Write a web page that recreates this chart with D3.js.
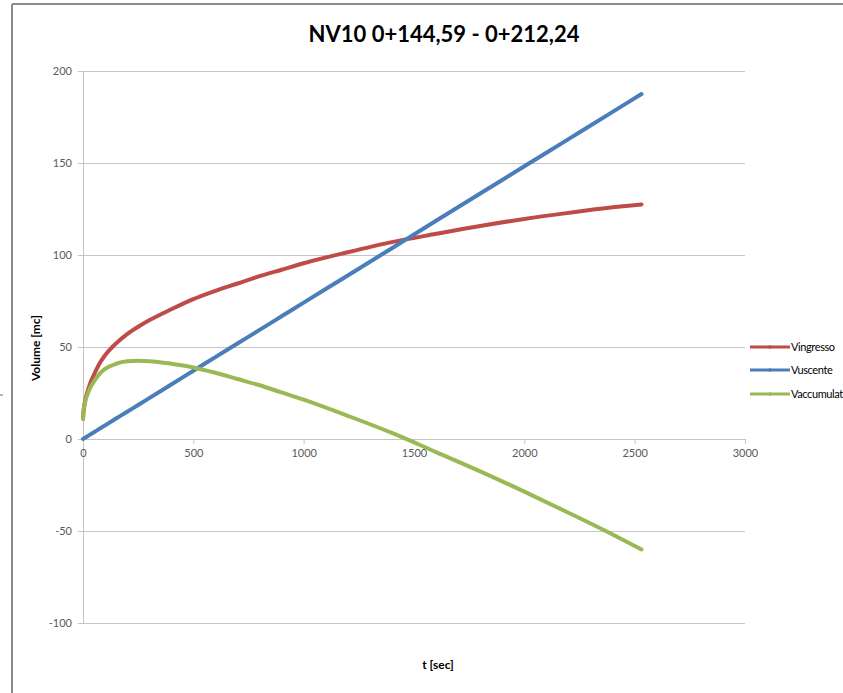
<!DOCTYPE html>
<html><head><meta charset="utf-8">
<script src="https://cdn.jsdelivr.net/npm/d3@7"></script>
<style>body{margin:0;background:#fff;}svg{display:block;font-family:Lato,"Open Sans",sans-serif;}</style>
</head><body><svg id="c" width="843" height="693"></svg>
<script>
const title = "NV10 0+144,59 - 0+212,24";
const tSec = [0, 2, 5, 10, 15, 25, 35, 50, 75, 100, 150, 200, 250, 300, 400, 500, 600, 700, 800, 900, 1000, 1200, 1400, 1600, 1800, 2000, 2200, 2400, 2531];
const vIngresso = [11, 14.5, 17.5, 21, 23.5, 27.5, 31, 35, 41, 45.5, 52, 57, 61, 64.5, 70.5, 76, 80.5, 84.5, 88.5, 92, 95.5, 101.5, 107, 111.5, 115.8, 119.6, 122.9, 125.9, 127.5];
const vUscente = [0, 0.15, 0.37, 0.74, 1.11, 1.85, 2.59, 3.7, 5.56, 7.4, 11.1, 14.8, 18.5, 22.2, 29.6, 37.1, 44.5, 51.9, 59.3, 66.7, 74.1, 88.9, 103.7, 118.6, 133.4, 148.2, 163.0, 177.8, 187.5];
const vAccumulato = [11, 14.4, 17.1, 20.3, 22.4, 25.7, 28.4, 31.3, 35.4, 38.1, 40.9, 42.2, 42.5, 42.3, 40.9, 38.9, 36, 32.6, 29.2, 25.3, 21.4, 12.6, 3.3, -7.1, -17.6, -28.6, -40.1, -51.9, -60];
const seriesNames = ["Vingresso", "Vuscente", "Vaccumulat"];
const seriesColors = ["#BE4B48", "#4A7EBB", "#98B954"];
const xTicks = [0, 500, 1000, 1500, 2000, 2500, 3000];
const yTicks = [-100, -50, 0, 50, 100, 150, 200];

const svg = d3.select("#c");
// frame
svg.append("line").attr("x1",12).attr("x2",12).attr("y1",4).attr("y2",693).attr("stroke","#8c8c8c").attr("stroke-width",2);
svg.append("line").attr("x1",12).attr("x2",843).attr("y1",4).attr("y2",4).attr("stroke","#8c8c8c").attr("stroke-width",2);
svg.append("line").attr("x1",0).attr("x2",3).attr("y1",395).attr("y2",395).attr("stroke","#666").attr("stroke-width",1);

const x = d3.scaleLinear().domain([0,3000]).range([83,745]);
const y = d3.scaleLinear().domain([-100,200]).range([623,71]);
const fmt = d => String(d);

// gridlines
svg.append("g").selectAll("line").data(yTicks).join("line")
  .attr("x1",83).attr("x2",745).attr("y1",d=>y(d)).attr("y2",d=>y(d))
  .attr("stroke","#c4c4c4").attr("stroke-width",1).attr("shape-rendering","crispEdges");

// y axis
const yAx = svg.append("g").attr("transform","translate(83,0)")
  .call(d3.axisLeft(y).tickValues(yTicks).tickFormat(fmt).tickSize(5).tickPadding(6));
yAx.select(".domain").attr("stroke","#c4c4c4");
yAx.selectAll(".tick line").attr("stroke","#c4c4c4");
yAx.selectAll("text").attr("fill","#595959").style("font-size","11px").style("font-family","Lato, sans-serif");

// x axis at y=0
const xAx = svg.append("g").attr("transform",`translate(0,${y(0)})`)
  .call(d3.axisBottom(x).tickValues(xTicks).tickFormat(fmt).tickSize(5).tickPadding(5));
xAx.select(".domain").attr("stroke","#c4c4c4");
xAx.selectAll(".tick line").attr("stroke","#c4c4c4");
xAx.selectAll("text").attr("fill","#595959").style("font-size","11px").style("font-family","Lato, sans-serif");

const series = [vIngresso, vUscente, vAccumulato];
const line = d3.line().x((d,i)=>x(tSec[i])).y(d=>y(d)).curve(d3.curveMonotoneX);
series.forEach((s,k)=>{
  svg.append("path").datum(s).attr("d",line).attr("fill","none")
    .attr("stroke",seriesColors[k]).attr("stroke-width",4).attr("stroke-linecap","round").attr("stroke-linejoin","round");
});

// title
svg.append("text").attr("x",444).attr("y",42).attr("text-anchor","middle")
  .style("font-size","22px").style("font-weight","bold").attr("fill","#000").text(title);

// axis titles
svg.append("text").attr("x",438).attr("y",669).attr("text-anchor","middle")
  .style("font-size","12px").style("font-weight","bold").attr("fill","#000").text("t [sec]");
svg.append("text").attr("transform","translate(40,348) rotate(-90)").attr("text-anchor","middle")
  .style("font-size","12px").style("font-weight","bold").attr("fill","#000").text("Volume [mc]");

// legend
const legY = [347, 370, 394];
const lg = svg.append("g");
seriesNames.forEach((n,k)=>{
  lg.append("line").attr("x1",750).attr("x2",790).attr("y1",legY[k]).attr("y2",legY[k])
    .attr("stroke",seriesColors[k]).attr("stroke-width",3);
  lg.append("circle").attr("cx",770).attr("cy",legY[k]).attr("r",1.8).attr("fill",seriesColors[k]);
  lg.append("text").attr("x",791).attr("y",legY[k]+4).style("font-size","11px").style("letter-spacing","-0.4px").attr("fill","#000").text(n);
});
</script></body></html>
